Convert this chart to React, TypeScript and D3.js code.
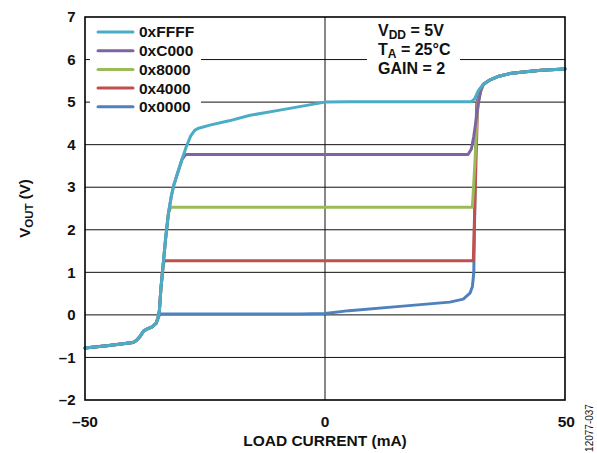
import React from "react";
import * as d3 from "d3";

const seriesNames = ["0xFFFF", "0xC000", "0x8000", "0x4000", "0x0000"];
const seriesColors = ["#4BACC6", "#8064A2", "#9BBB59", "#C0504D", "#4F81BD"];

const xTicks = [-50, 0, 50];
const yTicks = [-2, -1, 0, 1, 2, 3, 4, 5, 6, 7];

const dataFFFF: [number, number][] = [
  [-50, -0.78], [-45, -0.72], [-40, -0.65], [-39.3, -0.6], [-38.5, -0.5], [-37.8, -0.38],
  [-37, -0.33], [-36, -0.28], [-35.2, -0.2], [-34.8, -0.08], [-34.5, 0.1], [-34.2, 0.6],
  [-33.7, 1.2], [-33.2, 1.8], [-32.6, 2.4], [-32.0, 2.8], [-31.5, 3.05], [-30.8, 3.3],
  [-29.8, 3.65], [-28.9, 3.95], [-28.0, 4.2], [-27.2, 4.33], [-26.5, 4.38], [-24, 4.46],
  [-20, 4.56], [-15.6, 4.69], [-10, 4.8], [-5, 4.9], [0, 5.0], [5, 5.01], [10, 5.01],
  [20, 5.01], [30.5, 5.01], [31.2, 5.08], [32, 5.28], [33, 5.42], [34.5, 5.53], [36, 5.6],
  [38.5, 5.67], [41.3, 5.71], [45, 5.75], [50, 5.78],
];

const dataC000: [number, number][] = [
  [-50, -0.78], [-45, -0.72], [-40, -0.65], [-39.3, -0.6], [-38.5, -0.5], [-37.8, -0.38],
  [-37, -0.33], [-36, -0.28], [-35.2, -0.2], [-34.8, -0.08], [-34.5, 0.1], [-34.2, 0.6],
  [-33.7, 1.2], [-33.2, 1.8], [-32.6, 2.4], [-32.0, 2.8], [-31.5, 3.05], [-30.8, 3.3],
  [-29.8, 3.65], [-29.0, 3.77], [0, 3.77], [29.8, 3.77], [30.5, 3.9], [31.0, 4.2],
  [31.5, 4.6], [32, 5.0], [32.5, 5.3], [33, 5.42], [34.5, 5.53], [36, 5.6],
  [38.5, 5.67], [41.3, 5.71], [45, 5.75], [50, 5.78],
];

const data8000: [number, number][] = [
  [-50, -0.78], [-45, -0.72], [-40, -0.65], [-39.3, -0.6], [-38.5, -0.5], [-37.8, -0.38],
  [-37, -0.33], [-36, -0.28], [-35.2, -0.2], [-34.8, -0.08], [-34.5, 0.1], [-34.2, 0.6],
  [-33.7, 1.2], [-33.2, 1.8], [-32.6, 2.4], [-32.1, 2.53], [0, 2.53], [30.7, 2.53],
  [31.2, 3.5], [31.6, 4.5], [31.9, 5.0], [32.4, 5.25], [33, 5.42], [34.5, 5.53], [36, 5.6],
  [38.5, 5.67], [41.3, 5.71], [45, 5.75], [50, 5.78],
];

const data4000: [number, number][] = [
  [-50, -0.78], [-45, -0.72], [-40, -0.65], [-39.3, -0.6], [-38.5, -0.5], [-37.8, -0.38],
  [-37, -0.33], [-36, -0.28], [-35.2, -0.2], [-34.8, -0.08], [-34.5, 0.1], [-34.2, 0.6],
  [-33.7, 1.2], [-33.4, 1.27], [0, 1.27], [30.9, 1.27], [31.2, 2.5], [31.5, 3.8],
  [31.8, 5.0], [32.4, 5.25], [33, 5.42], [34.5, 5.53], [36, 5.6],
  [38.5, 5.67], [41.3, 5.71], [45, 5.75], [50, 5.78],
];

const data0000: [number, number][] = [
  [-50, -0.78], [-45, -0.72], [-40, -0.65], [-39.3, -0.6], [-38.5, -0.5], [-37.8, -0.38],
  [-37, -0.33], [-36, -0.28], [-35.2, -0.2], [-34.8, -0.08], [-34.4, 0.02], [-30, 0.02],
  [-5, 0.02], [0, 0.03], [5, 0.1], [15.6, 0.2], [26, 0.3], [28.8, 0.37], [30.2, 0.51],
  [30.7, 0.66], [31.0, 1.0], [31.2, 2.5], [31.4, 4.0], [31.6, 5.0], [32.3, 5.25],
  [33, 5.42], [34.5, 5.53], [36, 5.6], [38.5, 5.67], [41.3, 5.71], [45, 5.75], [50, 5.78],
];

const seriesData = [dataFFFF, dataC000, data8000, data4000, data0000];

const W = 597;
const H = 453;
const left = 85;
const right = 565;
const top = 17;
const bottom = 400;
const FONT = "'Liberation Sans', Arial, sans-serif";

export default function App() {
  const x = d3.scaleLinear().domain([-50, 50]).range([left, right]);
  const y = d3.scaleLinear().domain([-2, 7]).range([bottom, top]);
  const line = d3
    .line<[number, number]>()
    .x((d) => x(d[0]))
    .y((d) => y(d[1]))
    .curve(d3.curveLinear);

  const drawOrder = [4, 3, 2, 1, 0];
  const fmt = (t: number) => (t < 0 ? "\u2013" + Math.abs(t) : String(t));

  return (
    <svg
      width={W}
      height={H}
      style={{ position: "absolute", left: 0, top: 0, display: "block", background: "#fff" }}
      fontFamily={FONT}
    >
      <rect x={0} y={0} width={W} height={H} fill="#fff" />
      {yTicks
        .filter((t) => t > -2 && t < 7)
        .map((t) => (
          <line key={"g" + t} x1={left} x2={right} y1={y(t)} y2={y(t)} stroke="#111" strokeWidth={1} />
        ))}
      <line x1={x(0)} x2={x(0)} y1={top} y2={bottom} stroke="#111" strokeWidth={1} />

      <rect x={90} y={20} width={111} height={96} fill="#fff" />
      <rect x={367} y={20} width={93} height={58} fill="#fff" />

      {drawOrder.map((i) => (
        <path
          key={seriesNames[i]}
          d={line(seriesData[i]) || ""}
          fill="none"
          stroke={seriesColors[i]}
          strokeWidth={3}
          strokeLinejoin="round"
          strokeLinecap="round"
        />
      ))}

      <rect x={left} y={top} width={right - left} height={bottom - top} fill="none" stroke="#000" strokeWidth={1.6} />

      {yTicks.map((t) => (
        <text
          key={"yl" + t}
          x={left - 9.5}
          y={y(t)}
          dy="0.35em"
          textAnchor="end"
          fontSize={15}
          fontWeight="bold"
          fill="#111"
        >
          {fmt(t)}
        </text>
      ))}
      {xTicks.map((t, i) => {
        const last = i === xTicks.length - 1;
        return (
          <text
            key={"xl" + t}
            x={last ? x(t) + 10 : x(t)}
            y={bottom + 27}
            textAnchor={last ? "end" : "middle"}
            fontSize={15.5}
            fontWeight="bold"
            fill="#111"
          >
            {fmt(t)}
          </text>
        );
      })}

      <text x={x(0)} y={446} textAnchor="middle" fontSize={15.5} fontWeight="bold" fill="#111">
        LOAD CURRENT (mA)
      </text>
      <text
        transform={`translate(25,${y(2.5)}) rotate(-90)`}
        textAnchor="middle"
        fontSize={15}
        fontWeight="bold"
        fill="#111"
        dy="0.35em"
      >
        V<tspan fontSize={11.5} dy={3}>OUT</tspan>
        <tspan dy={-3}> (V)</tspan>
      </text>
      <text
        transform="translate(593,428) rotate(-90)"
        textAnchor="middle"
        fontSize={10}
        fill="#111"
      >
        12077-037
      </text>

      {seriesNames.map((n, i) => (
        <g key={"lg" + n} transform={`translate(0,${32 + i * 18.7})`}>
          <line x1={98} x2={133} y1={0} y2={0} stroke={seriesColors[i]} strokeWidth={3} strokeLinecap="round" />
          <text x={139} y={0} dy="0.35em" fontSize={15.5} fontWeight="bold" fill="#111">
            {n}
          </text>
        </g>
      ))}

      <g fontSize={16} fontWeight="bold" fill="#111">
        <text x={378} y={36}>
          V<tspan fontSize={12} dy={3}>DD</tspan>
          <tspan dy={-3}> = 5V</tspan>
        </text>
        <text x={378} y={55}>
          T<tspan fontSize={12} dy={3}>A</tspan>
          <tspan dy={-3}> = 25°C</tspan>
        </text>
        <text x={378} y={74}>GAIN = 2</text>
      </g>
    </svg>
  );
}
